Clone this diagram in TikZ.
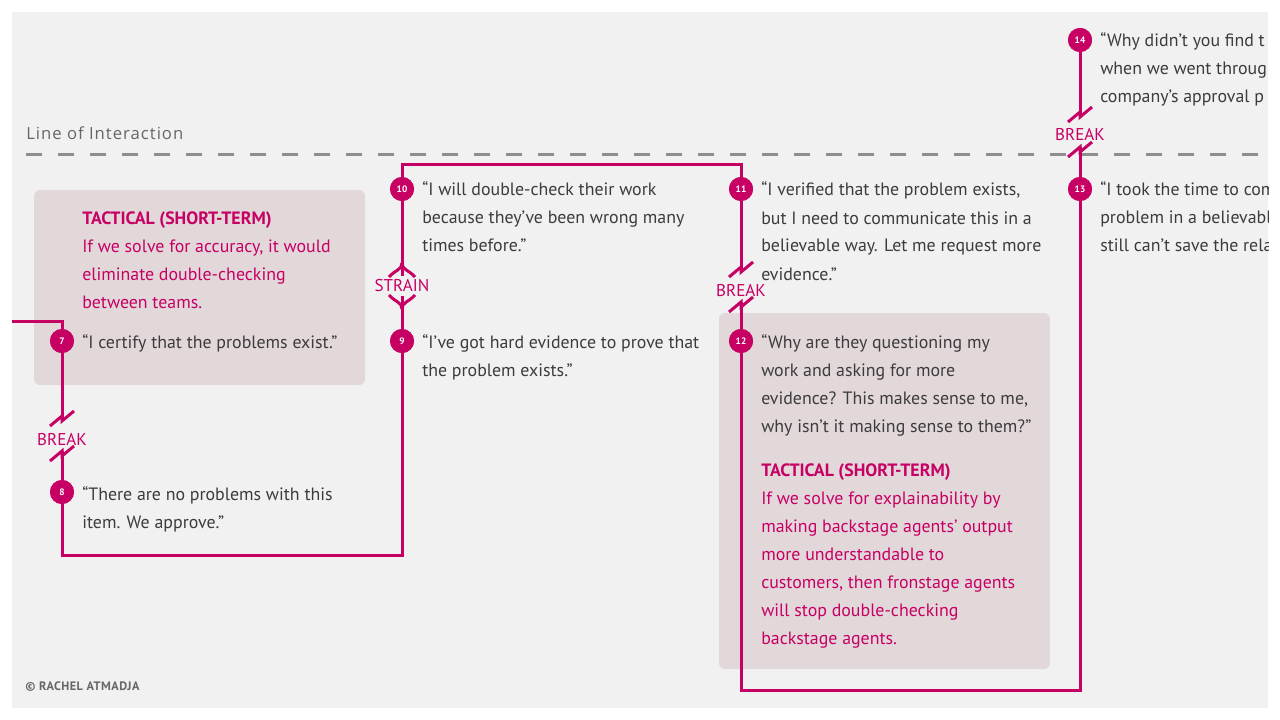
\documentclass[tikz,border=0pt]{standalone}
\usepackage{fontspec}
\setmainfont{PT Sans}
\newfontfamily\axisfont{Open Sans}
\usetikzlibrary{positioning,calc}

\definecolor{bgGray}{HTML}{F1F1F1}
\definecolor{boxTint}{HTML}{E2D8DA}
\definecolor{flowMag}{HTML}{C70064}
\definecolor{quoteInk}{HTML}{3C3C3C}
\definecolor{lineGray}{HTML}{8E8E8E}
\definecolor{noteGray}{HTML}{666666}

\newcommand\bodytext{\fontsize{13.4}{21}\selectfont}

\tikzset{
  brk/.pic={\draw[flow] (-12,6) -- (0,-4) -- (0,1) -- (12,-9);},
  strainup/.pic={\draw[flow] (0,0) -- (0,13);
    \draw[flow] (0,0) .. controls (0,7) and (-7,7) .. (-13,14);
    \draw[flow] (0,0) .. controls (0,7) and (7,7) .. (13,14);},
  straindown/.pic={\draw[flow] (0,0) -- (0,-13);
    \draw[flow] (0,0) .. controls (0,-7) and (-7,-7) .. (-13,-14);
    \draw[flow] (0,0) .. controls (0,-7) and (7,-7) .. (13,-14);}
}

\begin{document}
\begin{tikzpicture}[x=0.75pt, y=-0.75pt,
  flow/.style={draw=flowMag, line width=2.25pt},
  stepdot/.style={circle, fill=flowMag, text=white, minimum size=18pt, inner sep=0pt,
                  font=\fontsize{7}{7}\selectfont\bfseries},
  quote/.style={anchor=base west, align=left, inner sep=0pt, text=quoteInk, font=\bodytext},
  tactic/.style={quote, text=flowMag},
  tipbox/.style={fill=boxTint, rounded corners=4.5pt},
  brklabel/.style={text=flowMag, inner sep=0pt, font=\fontsize{12.8}{12.8}\selectfont}]
\useasboundingbox (0,0) rectangle (1280,720);
\fill[white] (0,0) rectangle (1280,720);
\fill[bgGray] (12,12) rectangle (1268,708);
\begin{scope}
\clip (12,12) rectangle (1268,708);

% line of interaction
\node[anchor=base west, inner sep=0pt, text=noteGray,
      font=\axisfont\addfontfeature{LetterSpace=6}\fontsize{12.5}{12.5}\selectfont]
  (loi) at (26,140) {Line of Interaction};
\draw[lineGray, line width=2.25pt, dash pattern=on 12pt off 12pt] (26,155) -- (1268,155);

% tactic boxes
\fill[tipbox] (34,190) rectangle (365,385);
\fill[tipbox] (719,313) rectangle (1050,669);

% steps
\node[stepdot] (s7) at (62,341) {7};
\node[stepdot] (s8) at (62,492) {8};
\node[stepdot] (s9) at (402,341) {9};
\node[stepdot] (s10) at (402,189) {10};
\node[stepdot] (s11) at (741,189) {11};
\node[stepdot] (s12) at (741,341) {12};
\node[stepdot] (s13) at (1080,189) {13};
\node[stepdot] (s14) at (1080,40) {14};

\coordinate (entry) at (12,321);
\coordinate (low1) at (232,555);
\coordinate (top1) at (571,165);
\coordinate (low2) at (910,690);

% breaks and strain
\node[brklabel] (b78) at (62,439) {BREAK};
\path (62,420) pic {brk} (62,455) pic {brk};
\coordinate (b78a) at (62,421);
\coordinate (b78b) at (62,451);
\node[brklabel] (st910) at (402,286) {STRAIN};
\path (402,263) pic {strainup} (402,309) pic {straindown};
\coordinate (st910a) at (402,263);
\coordinate (st910b) at (402,309);
\node[brklabel] (b1112) at (741,290) {BREAK};
\path (741,271) pic {brk} (741,306) pic {brk};
\coordinate (b1112a) at (741,272);
\coordinate (b1112b) at (741,302);
\node[brklabel] (b1314) at (1080,135) {BREAK};
\path (1080,116) pic {brk} (1080,151) pic {brk};
\coordinate (b1314a) at (1080,117);
\coordinate (b1314b) at (1080,147);

% flow line
\draw[flow] (entry) -| (s7);
\draw[flow] (s7) -- (b78a);
\draw[flow] (b78b) -- (s8);
\draw[flow] (s8) |- (low1) -| (s9);
\draw[flow] (s9) -- (st910b);
\draw[flow] (st910a) -- (s10);
\draw[flow] (s10) |- (top1) -| (s11);
\draw[flow] (s11) -- (b1112a);
\draw[flow] (b1112b) -- (s12);
\draw[flow] (s12) |- (low2) -| (s13);
\draw[flow] (s13) -- (b1314b);
\draw[flow] (b1314a) -- (s14);

% redraw dots on top
\foreach \s/\n in {s7/7,s8/8,s9/9,s10/10,s11/11,s12/12,s13/13,s14/14}
  \node[stepdot] at (\s) {\n};

% texts (base anchor sits on the last line)
\node[tactic] (tac1) at (82,308) {\textbf{TACTICAL (SHORT-TERM)}\\If we solve for accuracy, it would\\eliminate double-checking\\between teams.};
\node[quote] (q7) at (82,348) {“I certify that the problems exist.”};
\node[quote] (q8) at (82,528) {“There are no problems with this\\item. We approve.”};
\node[quote] (q9) at (422,376) {“I’ve got hard evidence to prove that\\the problem exists.”};
\node[quote] (q10) at (422,252) {“I will double-check their work\\because they’ve been wrong many\\times before.”};
\node[quote] (q11) at (761,280) {“I verified that the problem exists,\\but I need to communicate this in a\\believable way. Let me request more\\evidence.”};
\node[quote] (q12) at (761,432) {“Why are they questioning my\\work and asking for more\\evidence? This makes sense to me,\\why isn’t it making sense to them?”};
\node[tactic] (tac2) at (761,644) {\textbf{TACTICAL (SHORT-TERM)}\\If we solve for explainability by\\making backstage agents’ output\\more understandable to\\customers, then fronstage agents\\will stop double-checking\\backstage agents.};
\node[quote] (q13) at (1100,252) {“I took the time to com\\problem in a believabl\\still can’t save the relat};
\node[quote] (q14) at (1100,103) {“Why didn’t you find t\\when we went throug\\company’s approval p};

% credit
\node[anchor=base west, inner sep=0pt, text=noteGray,
      font=\addfontfeature{LetterSpace=4}\fontsize{9.2}{9.2}\selectfont\bfseries]
  (credit) at (25,690) {© RACHEL ATMADJA};
\end{scope}
\end{tikzpicture}
\end{document}
